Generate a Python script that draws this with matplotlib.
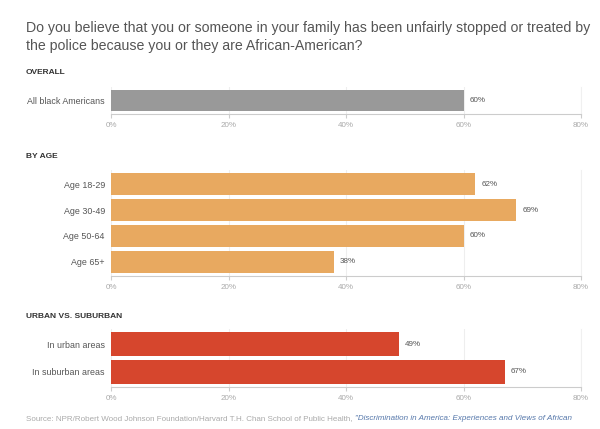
import matplotlib
matplotlib.use('Agg')
import matplotlib.pyplot as plt

plt.rcParams['font.family'] = ['Liberation Sans', 'DejaVu Sans']

title = 'Do you believe that you or someone in your family has been unfairly stopped or treated by\nthe police because you or they are African-American?'

overall_labels = ['All black Americans']
overall_vals = [60]
age_labels = ['Age 18-29', 'Age 30-49', 'Age 50-64', 'Age 65+']
age_vals = [62, 69, 60, 38]
area_labels = ['In urban areas', 'In suburban areas']
area_vals = [49, 67]
xticks = [0, 20, 40, 60, 80]

W, H = 600, 429
fig = plt.figure(figsize=(6, 4.29), dpi=100)
fig.patch.set_facecolor('white')

def px(x0, y0, x1, y1):
    # pixel box -> figure fraction rect
    return [x0 / W, 1 - y1 / H, (x1 - x0) / W, (y1 - y0) / H]

def panel(rect, labels, vals, color, pad):
    ax = fig.add_axes(rect)
    n = len(labels)
    ys = list(range(n))
    ax.barh(ys, vals, height=0.86, color=color, zorder=2)
    ax.set_ylim(n - 0.5 + pad, -0.5 - pad)
    ax.set_xlim(0, 80)
    ax.set_yticks(ys)
    ax.set_yticklabels(labels, fontsize=6.4, color='#555555')
    ax.set_xticks(xticks)
    ax.set_xticklabels(['%d%%' % t for t in xticks], fontsize=5.8, color='#aaaaaa')
    ax.tick_params(axis='y', length=0, pad=4.5)
    ax.tick_params(axis='x', length=3, color='#cccccc', pad=3)
    ax.grid(axis='x', color='#eeeeee', linewidth=0.8, zorder=0)
    for s in ['top', 'left']:
        ax.spines[s].set_visible(False)
    ax.spines['right'].set_color('#f0f0f0')
    ax.spines['bottom'].set_color('#cccccc')
    for y, v in zip(ys, vals):
        ax.text(v + 1, y, '%d%%' % v, va='center', ha='left', fontsize=5.8, color='#555555')
    return ax

fig.text(26 / W, 1 - 37 / H, title, fontsize=10.15, color='#555555', va='center', linespacing=1.35)

fig.text(26 / W, 1 - 73 / H, 'OVERALL', fontsize=6, fontweight='bold', color='#333333', va='center')
panel(px(111, 87, 581, 114), overall_labels, overall_vals, '#999999', 0.06)

fig.text(26 / W, 1 - 157 / H, 'BY AGE', fontsize=6, fontweight='bold', color='#333333', va='center')
panel(px(111, 170, 581, 276), age_labels, age_vals, '#E8A960', 0.04)

fig.text(26 / W, 1 - 316 / H, 'URBAN VS. SUBURBAN', fontsize=6, fontweight='bold', color='#333333', va='center')
panel(px(111, 329, 581, 387), area_labels, area_vals, '#D6462D', 0.04)

t1 = fig.text(26 / W, 1 - 420 / H,
              'Source: NPR/Robert Wood Johnson Foundation/Harvard T.H. Chan School of Public Health, ',
              fontsize=5.8, color='#aaaaaa', va='baseline')
fig.canvas.draw()
bb = t1.get_window_extent()
fig.text(bb.x1 / W, 1 - 420 / H,
         '"Discrimination in America: Experiences and Views of African',
         fontsize=5.8, color='#5577aa', style='italic', va='baseline')

fig.savefig('out.png', dpi=100)
